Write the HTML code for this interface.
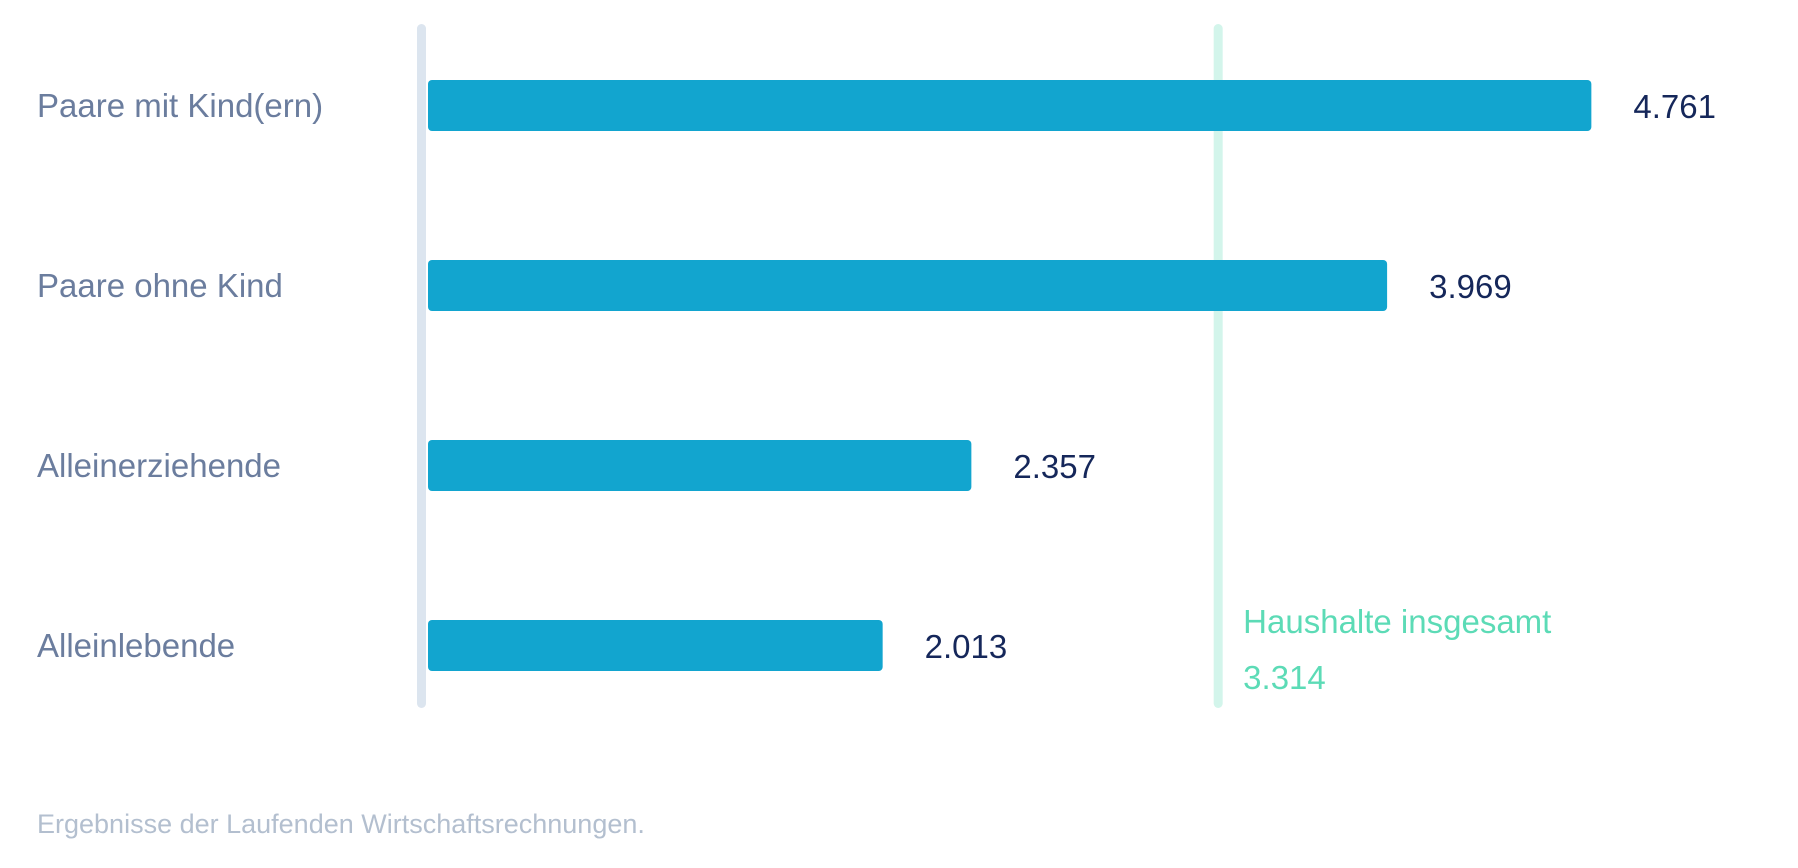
<!DOCTYPE html>
<html><head><meta charset="utf-8"><style>
body{margin:0;background:#fff;}
svg{display:block;font-family:"Liberation Sans",sans-serif;}
</style></head><body>
<svg width="1798" height="868">
<g id="g"></g>
<text x="37" y="833" font-size="27" fill="#b3bfcf">Ergebnisse der Laufenden Wirtschaftsrechnungen.</text>
</svg>
<script>
const categories=["Paare mit Kind(ern)","Paare ohne Kind","Alleinerziehende","Alleinlebende"];
const values=[4761,3969,2357,2013];
const valueLabels=["4.761","3.969","2.357","2.013"];
const refValue=3314;
const refLabel="Haushalte insgesamt";
const refValueLabel="3.314";
const NS="http://www.w3.org/2000/svg";
const g=document.getElementById('g');
const x=v=>363.5+v*0.2579;
const y=i=>80+i*180;
function mk(t,a){const e=document.createElementNS(NS,t);for(const k in a)e.setAttribute(k,a[k]);g.appendChild(e);return e;}
let ax=mk('rect',{x:417,y:24,width:9,height:684,rx:4.5,fill:'#dce5ef'});


let rl=mk('rect',{x:x(refValue)-4.5,y:24,width:9,height:684,rx:4.5,fill:'#d3f5eb'});


categories.forEach((c,i)=>{
  let b=mk('rect',{x:428,y:y(i),width:x(values[i])-428,height:51,rx:4,fill:'#12a5cf'});
  
  
  let l=mk('text',{x:37,y:y(i)+37,'font-size':33,fill:'#6b7d9e'});
  l.textContent=c;
  
  
  let v=mk('text',{x:x(values[i])+42,y:y(i)+38,'font-size':33,fill:'#15275a'});
  v.textContent=valueLabels[i];
  
  
});
let r1=mk('text',{x:x(refValue)+25,y:633,'font-size':33,fill:'#5cdbb6'});
r1.textContent=refLabel;


let r2=mk('text',{x:x(refValue)+25,y:689,'font-size':33,fill:'#5cdbb6'});
r2.textContent=refValueLabel;


</script>
</body></html>
